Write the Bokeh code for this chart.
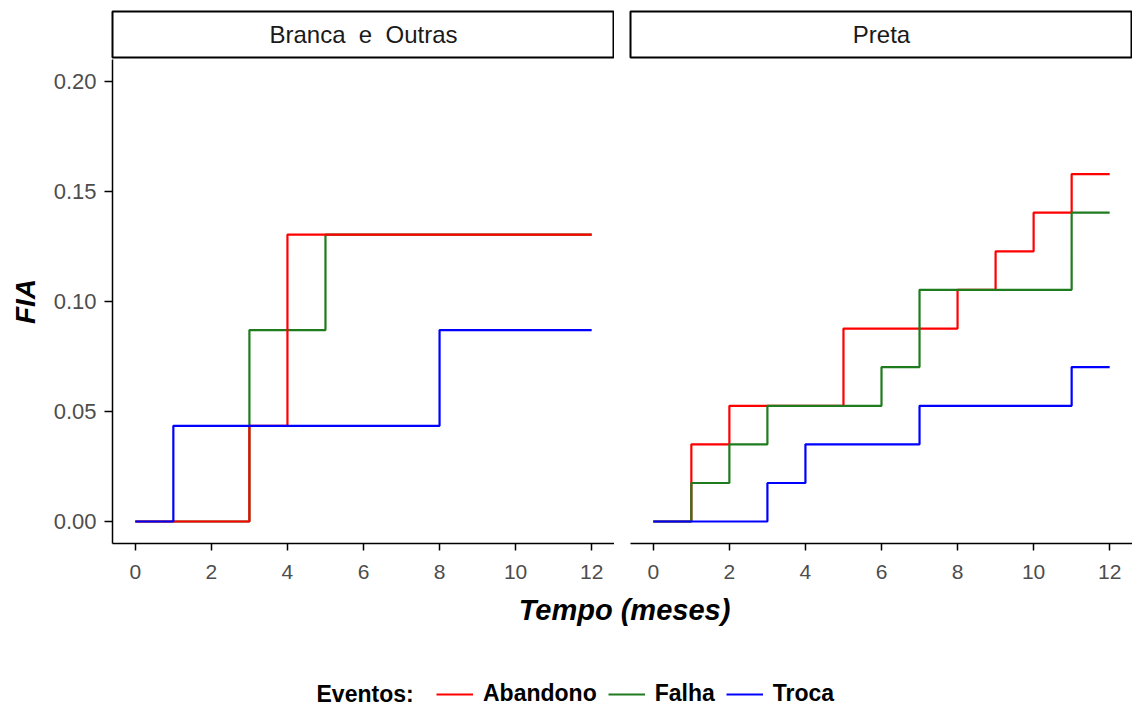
from bokeh.plotting import figure
from bokeh.layouts import column, row
from bokeh.models import (Range1d, FixedTicker, PrintfTickFormatter, Label,
                          Legend, LegendItem)
from bokeh.embed import file_html
from bokeh.resources import INLINE

# Função de incidência acumulada (FIA) por mês, em degraus, para cada grupo
grupos = ["Branca  e  Outras", "Preta"]
eventos = ["Abandono", "Falha", "Troca"]

branca_abandono_t = [0, 3, 4, 12]
branca_abandono_fia = [0.0, 0.0435, 0.1304, 0.1304]
branca_falha_t = [0, 3, 5, 12]
branca_falha_fia = [0.0, 0.0870, 0.1304, 0.1304]
branca_troca_t = [0, 1, 8, 12]
branca_troca_fia = [0.0, 0.0435, 0.0870, 0.0870]

preta_abandono_t = [0, 1, 2, 5, 8, 9, 10, 11, 12]
preta_abandono_fia = [0.0, 0.0351, 0.0526, 0.0877, 0.1053, 0.1228, 0.1404, 0.1579, 0.1579]
preta_falha_t = [0, 1, 2, 3, 6, 7, 11, 12]
preta_falha_fia = [0.0, 0.0175, 0.0351, 0.0526, 0.0702, 0.1053, 0.1404, 0.1404]
preta_troca_t = [0, 3, 4, 7, 11, 12]
preta_troca_fia = [0.0, 0.0175, 0.0351, 0.0526, 0.0702, 0.0702]

x_ticks = [0, 2, 4, 6, 8, 10, 12]
y_ticks = [0.0, 0.05, 0.10, 0.15, 0.20]

series = {
    "Branca  e  Outras": {
        "Abandono": (branca_abandono_t, branca_abandono_fia),
        "Falha": (branca_falha_t, branca_falha_fia),
        "Troca": (branca_troca_t, branca_troca_fia),
    },
    "Preta": {
        "Abandono": (preta_abandono_t, preta_abandono_fia),
        "Falha": (preta_falha_t, preta_falha_fia),
        "Troca": (preta_troca_t, preta_troca_fia),
    },
}
# ordem de desenho das curvas em cada painel (a última fica por cima)
ordem = {
    "Branca  e  Outras": ["Falha", "Abandono", "Troca"],
    "Preta": ["Abandono", "Falha", "Troca"],
}

cores = {"Abandono": "#FF0000", "Falha": "#1E7B1E", "Troca": "#0000FF"}

FONT = "Liberation Sans"
FRAME_W = 502
FRAME_H = 484
LEFT_W = 112
GAP = 16
LINE_W = 2.2


def faixa(nome, borda_esq):
    s = figure(frame_width=FRAME_W, frame_height=46,
               x_range=Range1d(0, 1), y_range=Range1d(0, 1),
               x_axis_location=None, y_axis_location=None,
               min_border_left=borda_esq, min_border_right=0,
               min_border_top=11, min_border_bottom=2,
               output_backend="svg", toolbar_location=None)
    s.grid.visible = False
    s.outline_line_color = "black"
    s.outline_line_width = 2
    s.background_fill_color = "white"
    s.border_fill_color = "white"
    # espaços duplos do rótulo mantidos com espaço não separável
    rotulo = nome.replace("  ", "\u00a0 ")
    s.add_layout(Label(x=0.5, y=0.5, text=rotulo, text_align="center",
                       text_baseline="middle", text_font=FONT,
                       text_font_size="24px", text_color="#1A1A1A"))
    return s


def painel(nome, eixo_y):
    p = figure(frame_width=FRAME_W, frame_height=FRAME_H,
               x_range=Range1d(-0.6, 12.6), y_range=Range1d(-0.01, 0.21),
               y_axis_location="left" if eixo_y else None,
               min_border_left=LEFT_W if eixo_y else GAP, min_border_right=0,
               min_border_top=0, min_border_bottom=45,
               output_backend="svg", toolbar_location=None)
    p.grid.visible = False
    p.outline_line_color = None
    p.background_fill_color = "white"
    p.border_fill_color = "white"

    for ev in ordem[nome]:
        t, f = series[nome][ev]
        p.step(t, f, mode="after", line_color=cores[ev], line_width=LINE_W)

    ax = p.xaxis[0]
    ax.ticker = FixedTicker(ticks=x_ticks)
    ax.minor_tick_line_color = None
    ax.major_tick_in = 0
    ax.major_tick_out = 7
    ax.major_tick_line_width = 1.5
    ax.axis_line_width = 1.5
    ax.axis_line_color = "black"
    ax.major_tick_line_color = "black"
    ax.major_label_standoff = 14
    ax.major_label_text_font = FONT
    ax.major_label_text_font_size = "21px"
    ax.major_label_text_color = "#4D4D4D"

    if eixo_y:
        ay = p.yaxis[0]
        ay.ticker = FixedTicker(ticks=y_ticks)
        ay.formatter = PrintfTickFormatter(format="%.2f")
        ay.minor_tick_line_color = None
        ay.major_tick_in = 0
        ay.major_tick_out = 8
        ay.major_tick_line_width = 1.5
        ay.axis_line_width = 1.5
        ay.axis_line_color = "black"
        ay.major_tick_line_color = "black"
        ay.major_label_standoff = 8
        ay.major_label_text_font = FONT
        ay.major_label_text_font_size = "22px"
        ay.major_label_text_color = "#4D4D4D"
        ay.axis_label = "FIA"
        ay.axis_label_text_font = FONT
        ay.axis_label_text_font_size = "28px"
        ay.axis_label_text_font_style = "bold italic"
        ay.axis_label_text_color = "black"
        ay.axis_label_standoff = 10
    return p


strip_l = faixa(grupos[0], LEFT_W)
strip_r = faixa(grupos[1], GAP)
p_l = painel(grupos[0], True)
p_r = painel(grupos[1], False)

# rodapé: título do eixo x e legenda comuns aos dois painéis
TOTAL_W = LEFT_W + FRAME_W + GAP + FRAME_W
BOTTOM_H = 121
b = figure(frame_width=TOTAL_W, frame_height=BOTTOM_H,
           x_range=Range1d(0, TOTAL_W), y_range=Range1d(0, BOTTOM_H),
           x_axis_location=None, y_axis_location=None, min_border=0,
           output_backend="svg", toolbar_location=None)
b.grid.visible = False
b.outline_line_color = None
b.background_fill_color = "white"
b.border_fill_color = "white"
# escala auxiliar que deixa as curvas da legenda fora da área visível
b.extra_x_ranges = {"leg": Range1d(100, 101)}
b.extra_y_ranges = {"leg": Range1d(100, 101)}

b.add_layout(Label(x=624, y=100, text="Tempo (meses)", text_align="center",
                   text_baseline="middle", text_font=FONT,
                   text_font_size="29px", text_font_style="bold italic",
                   text_color="black"))
b.add_layout(Label(x=316, y=16, text="Eventos:", text_align="left",
                   text_baseline="middle", text_font=FONT,
                   text_font_size="23px", text_font_style="bold",
                   text_color="black"))

itens = []
for ev in eventos:
    t, f = series["Preta"][ev]
    r = b.step(t, f, mode="after", line_color=cores[ev], line_width=LINE_W,
               x_range_name="leg", y_range_name="leg")
    itens.append(LegendItem(label=ev, renderers=[r]))

leg = Legend(items=itens, orientation="horizontal", location=(436, 2),
             glyph_width=37, glyph_height=24, label_standoff=10, spacing=11,
             padding=0, margin=0, border_line_color=None,
             background_fill_alpha=0,
             label_text_font=FONT, label_text_font_style="bold",
             label_text_font_size="23px", label_text_color="black")
b.add_layout(leg, "center")

layout = column(row(strip_l, strip_r), row(p_l, p_r), b)

with open("out.html", "w") as fh:
    fh.write(file_html(layout, INLINE))
